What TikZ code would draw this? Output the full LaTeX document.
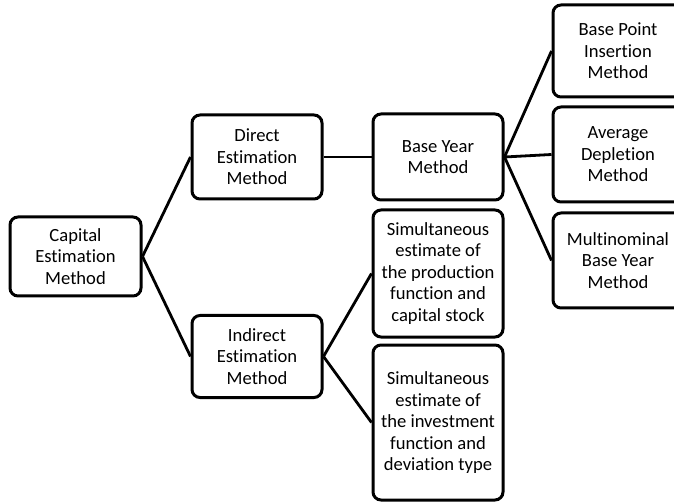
\documentclass[tikz,border=0pt]{standalone}
\usepackage{fontspec}
\setmainfont[Ligatures=NoCommon]{Carlito}
\newcommand{\mysize}{\fontsize{18.6}{21.5}\selectfont}
\def\blockwdth{130pt}
\def\blockheight{84pt}
\def\leftcol{257}
\def\midcol{438}
\def\rightcol{618}

\begin{document}
\begin{tikzpicture}[x=1pt,y=-1pt,
  blk/.style={draw, line width=3pt, rounded corners=8pt, align=center,
    inner sep=0pt, font=\mysize, minimum width=\blockwdth, minimum height=\blockheight},
  link/.style={line width=2.8pt}]

\path[use as bounding box, fill=white] (0,0) rectangle (674,502);
\clip (0,0) rectangle (674,502);

% CAPITAL
\node[blk, minimum width=131pt, minimum height=79pt] (capital) at (75.5,256.5) {Capital\\Estimation\\Method};

% DIRECT / INDIRECT
\node[blk] (direct) at (\leftcol,157) {Direct\\Estimation\\Method};
\node[blk, minimum height=82pt] (indirect) at (\leftcol,356.5) {Indirect\\Estimation\\Method};

% BASE YEAR
\node[blk, minimum height=86pt] (baseyear) at (\midcol,157) {Base Year\\Method};

% SIMULTANEOUS
\node[blk, minimum height=127pt] (simprod) at (\midcol,273.5) {Simultaneous\\estimate of\\the production\\function and\\capital stock};
\node[blk, minimum height=155pt] (siminv) at (\midcol,422.5) {\\[-8pt]Simultaneous\\estimate of\\the investment\\function and\\deviation type};

% RIGHT COLUMN
\node[blk, minimum height=92pt] (basepoint) at (\rightcol,51) {Base Point\\Insertion\\Method};
\node[blk, minimum height=95pt] (avgdepl) at (\rightcol,154.5) {Average\\Depletion\\Method};
\node[blk, minimum height=95pt] (multinom) at (\rightcol,260.5) {Multinominal\\Base Year\\Method};

% LINKS
\draw[link] (capital.east) -- (direct.west);
\draw[link] (capital.east) -- (indirect.west);
\draw[link] (direct.east) -- (baseyear.west);
\draw[link] (baseyear.east) -- (basepoint.west);
\draw[link] (baseyear.east) -- (avgdepl.west);
\draw[link] (baseyear.east) -- (multinom.west);
\draw[link] (indirect.east) -- (simprod.west);
\draw[link] (indirect.east) -- (siminv.west);
\end{tikzpicture}
\end{document}
